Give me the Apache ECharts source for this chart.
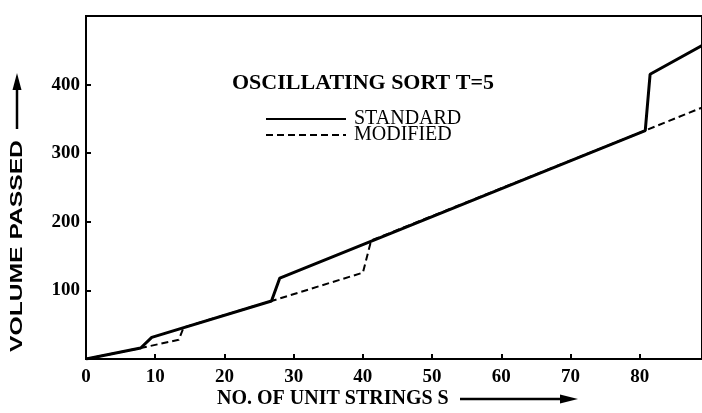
<!DOCTYPE html>
<html>
<head>
<meta charset="utf-8">
<script src="https://cdn.jsdelivr.net/npm/echarts@6/dist/echarts.min.js"></script>
<style>
html,body{margin:0;padding:0;background:#fff;}
#chart{width:702px;height:413px;}
</style>
</head>
<body>
<div id="chart"></div>
<script>
// Data (x = number of unit strings S, y = volume passed)
var standardX = [0, 7.9, 9.5, 26.8, 28.0, 80.8, 81.5, 89];
var standardY = [0, 16, 31.5, 84.6, 118, 333, 415, 457];
var modifiedX = [0, 7.9, 13.4, 14.1, 26.8, 40.0, 41.2, 80.8, 89];
var modifiedY = [0, 16, 28, 46, 84.6, 125.8, 172.7, 333, 366.5];
var xTicks = [0, 10, 20, 30, 40, 50, 60, 70, 80];
var yTicks = [100, 200, 300, 400];
var titleText = 'OSCILLATING SORT T=5';
var seriesNames = ['STANDARD', 'MODIFIED'];
var xTitle = 'NO. OF UNIT STRINGS S';
var yTitle = 'VOLUME PASSED';

function pairs(xs, ys) { return xs.map(function (x, i) { return [x, ys[i]]; }); }

var serif = 'Liberation Serif';
var chart = echarts.init(document.getElementById('chart'), null, {renderer: 'canvas'});
chart.setOption({
  animation: false,
  backgroundColor: '#fff',
  title: {
    text: titleText, left: 232, top: 72, padding: 0,
    textStyle: {fontFamily: serif, fontWeight: 'bold', fontSize: 22, color: '#000'}
  },
  legend: {
    orient: 'vertical', left: 265, top: 109, padding: 0,
    itemWidth: 80, itemHeight: 14, itemGap: -4,
    data: seriesNames,
    itemStyle: {opacity: 0},
    textStyle: {fontFamily: serif, fontSize: 20, color: '#000', lineHeight: 14, padding: [0, 0, 0, 3]}
  },
  grid: {left: 86, right: -2, top: 16, bottom: 54, show: true, borderColor: '#000', borderWidth: 2},
  xAxis: {
    type: 'value', min: 0, max: 89, interval: 10,
    axisLine: {show: true, lineStyle: {color: '#000', width: 2}},
    axisTick: {show: true, inside: true, length: 5, lineStyle: {color: '#000', width: 2}},
    splitLine: {show: false},
    axisLabel: {
      margin: 9, color: '#000', fontFamily: serif, fontWeight: 'bold', fontSize: 19,
      showMaxLabel: false,
      formatter: function (v) { return xTicks.indexOf(v) >= 0 ? String(v) : ''; }
    }
  },
  yAxis: {
    type: 'value', min: 0, max: 500, interval: 100,
    axisLine: {show: true, lineStyle: {color: '#000', width: 2}},
    axisTick: {show: true, inside: true, length: 5, lineStyle: {color: '#000', width: 2}},
    splitLine: {show: false},
    axisLabel: {
      margin: 6, color: '#000', fontFamily: serif, fontWeight: 'bold', fontSize: 19,
      formatter: function (v) { return yTicks.indexOf(v) >= 0 ? String(v) : ''; }
    }
  },
  series: [
    {
      name: seriesNames[0], type: 'line', data: pairs(standardX, standardY),
      symbol: 'none', z: 3, color: '#000',
      lineStyle: {color: '#000', width: 3, type: 'solid'}
    },
    {
      name: seriesNames[1], type: 'line', data: pairs(modifiedX, modifiedY),
      symbol: 'none', z: 2, color: '#000',
      lineStyle: {color: '#000', width: 2, type: [7, 4]}
    }
  ],
  graphic: [
    {type: 'text', x: 17.5, y: 246, rotation: Math.PI / 2, scaleX: 1.45,
     style: {text: yTitle, fontFamily: 'Liberation Sans', fontWeight: 'bold', fontSize: 17, fill: '#000', align: 'center', verticalAlign: 'middle'}},
    {type: 'line', shape: {x1: 17, y1: 129, x2: 17, y2: 86}, style: {stroke: '#000', lineWidth: 2.5}},
    {type: 'polygon', shape: {points: [[17, 73], [12.5, 90], [21.5, 90]]}, style: {fill: '#000'}},
    {type: 'text', x: 217, y: 399,
     style: {text: xTitle, fontFamily: serif, fontWeight: 'bold', fontSize: 20, fill: '#000', align: 'left', verticalAlign: 'middle'}},
    {type: 'line', shape: {x1: 460, y1: 399, x2: 565, y2: 399}, style: {stroke: '#000', lineWidth: 2.5}},
    {type: 'polygon', shape: {points: [[578, 399], [560, 394.5], [560, 403.5]]}, style: {fill: '#000'}}
  ]
});
</script>
</body>
</html>
